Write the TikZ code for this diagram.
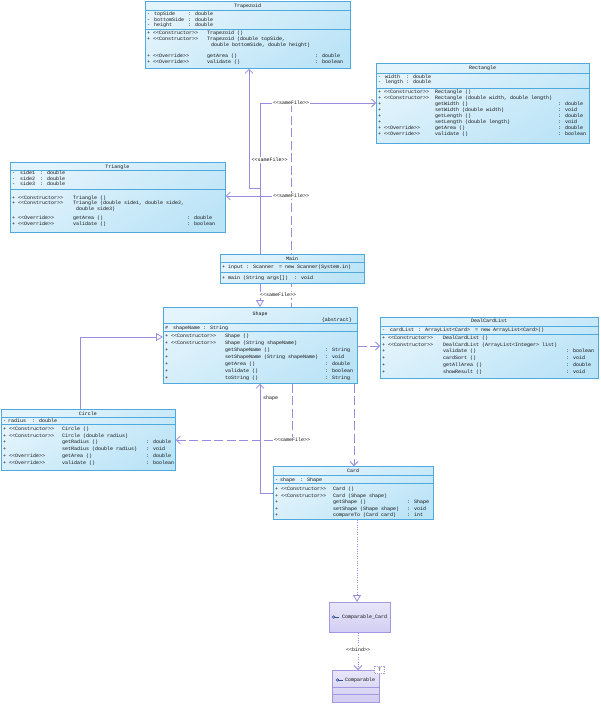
\documentclass[tikz,border=0pt]{standalone}
\usepackage{fontspec}
\newfontfamily\umf{Liberation Mono}
\usetikzlibrary{arrows.meta}
\definecolor{cbord}{HTML}{4FA9DD}
\definecolor{cfa}{HTML}{E4F4FC}
\definecolor{cfb}{HTML}{BCE4F7}
\definecolor{conn}{HTML}{9A8BE0}
\definecolor{ifa}{HTML}{E8E6F9}
\definecolor{ifb}{HTML}{D2CDF2}
\definecolor{ibord}{HTML}{A397E2}
\definecolor{tcol}{HTML}{101010}
\definecolor{icon}{HTML}{34509A}
\newcommand\cc[2]{\makebox[#1pt][l]{#2}}
\newcommand\rws[2]{\parbox[t]{260pt}{\umf\fontsize{5}{#1}\selectfont\lineskiplimit=-20pt\lineskip=0pt\relax #2}}
\pgfdeclarelayer{bgl}
\pgfdeclarelayer{cnl}
\pgfsetlayers{bgl,cnl,main}
\tikzset{
  classbox/.style={rectangle, draw=cbord, line width=0.8pt, top color=cfa, bottom color=cfb, shading angle=30, inner sep=0pt, anchor=north west},
  ifbox/.style={rectangle, draw=ibord, line width=0.8pt, top color=ifa, bottom color=ifb, inner sep=0pt, anchor=north west},
  sepline/.style={draw=cbord, line width=0.8pt},
  isep/.style={draw=ibord, line width=0.7pt},
  txt/.style={inner sep=0pt, anchor=base west, text=tcol, font=\umf\fontsize{5}{6}\selectfont},
  ttl/.style={inner sep=0pt, anchor=base, text=tcol, font=\umf\fontsize{5}{6}\selectfont},
  lbl/.style={fill=white, inner sep=0.7pt, text=tcol, font=\umf\fontsize{5}{6}\selectfont},
  conline/.style={draw=conn, line width=0.8pt},
  dashline/.style={conline, dash pattern=on 9pt off 3.5pt},
  dotline/.style={conline, dash pattern=on 1pt off 1.4pt},
  openv/.style={-{Straight Barb[length=4pt,width=8pt]}},
  gentri/.style={-{Triangle[open,length=7pt,width=8pt,fill=white]}}
}
\begin{document}
\begin{tikzpicture}[x=1pt,y=-1pt]
\useasboundingbox (0,0) rectangle (600,704);
\begin{pgfonlayer}{bgl}
\fill[white] (0,0) rectangle (600,704);
\end{pgfonlayer}

% ---------- Trapezoid
\node[classbox, minimum width=205pt, minimum height=67pt] (trap) at (145,1) {};
\draw[sepline] (trap.west |- 0,10) -- (trap.east |- 0,10);
\draw[sepline] (trap.west |- 0,29) -- (trap.east |- 0,29);
\node[ttl] (trapT) at (247.5,7.2) {Trapezoid};
\node[txt] (trapA) at (147,15.5) {\rws{5.6}{\cc{7}{-}\cc{34}{topSide}: double\\
\cc{7}{-}\cc{34}{bottomSide}: double\\
\cc{7}{-}\cc{34}{height}: double}};
\node[txt] (trapM) at (147,34) {\rws{6.3}{\cc{60}{+ <<Constructor>>}Trapezoid ()\\
\cc{60}{+ <<Constructor>>}Trapezoid (double topSide,\\
\hspace*{64pt}double bottomSide, double height)\\[4.6pt]
\cc{60}{+ <<Override>>}\cc{108}{getArea ()}: double\\
\cc{60}{+ <<Override>>}\cc{108}{validate ()}: boolean}};

% ---------- Rectangle
\node[classbox, minimum width=213pt, minimum height=80pt] (rect) at (376,63) {};
\draw[sepline] (rect.west |- 0,73) -- (rect.east |- 0,73);
\draw[sepline] (rect.west |- 0,88) -- (rect.east |- 0,88);
\node[ttl] (rectT) at (482.5,69.8) {Rectangle};
\node[txt] (rectA) at (378,78.3) {\rws{5.6}{\cc{7}{-}\cc{21}{width}: double\\
\cc{7}{-}\cc{21}{length}: double}};
\node[txt] (rectM) at (378,93.8) {\rws{5.95}{\cc{57}{+ <<Constructor>>}Rectangle ()\\
\cc{57}{+ <<Constructor>>}Rectangle (double width, double length)\\
\cc{57}{+}\cc{123}{getWidth ()}: double\\
\cc{57}{+}\cc{123}{setWidth (double width)}: void\\
\cc{57}{+}\cc{123}{getLength ()}: double\\
\cc{57}{+}\cc{123}{setLength (double length)}: void\\
\cc{57}{+ <<Override>>}\cc{123}{getArea ()}: double\\
\cc{57}{+ <<Override>>}\cc{123}{validate ()}: boolean}};

% ---------- Triangle
\node[classbox, minimum width=215pt, minimum height=70pt] (tri) at (10,162) {};
\draw[sepline] (tri.west |- 0,170.5) -- (tri.east |- 0,170.5);
\draw[sepline] (tri.west |- 0,189) -- (tri.east |- 0,189);
\node[ttl] (triT) at (117.5,168.3) {Triangle};
\node[txt] (triA) at (12,174.8) {\rws{5.5}{\cc{8}{-}\cc{20}{side1}: double\\
\cc{8}{-}\cc{20}{side2}: double\\
\cc{8}{-}\cc{20}{side3}: double}};
\node[txt] (triM) at (12,199) {\rws{5.7}{\cc{61}{+ <<Constructor>>}Triangle ()\\
\cc{61}{+ <<Constructor>>}Triangle (double side1, double side2,\\
\hspace*{64pt}double side3)\\[3.6pt]
\cc{61}{+ <<Override>>}\cc{114}{getArea ()}: double\\
\cc{61}{+ <<Override>>}\cc{114}{validate ()}: boolean}};

% ---------- Main
\node[classbox, minimum width=144pt, minimum height=29pt] (main) at (220,254) {};
\draw[sepline] (main.west |- 0,262) -- (main.east |- 0,262);
\draw[sepline] (main.west |- 0,272) -- (main.east |- 0,272);
\node[ttl] (mainT) at (292,260) {Main};
\node[txt] (mainA) at (222,268.8) {\rws{6}{\cc{6}{+}\cc{18}{input}\cc{33}{: Scanner}= new Scanner(System.in)}};
\node[txt] (mainM) at (222,279) {\rws{6}{\cc{6}{+}\cc{66}{main (String args[])}: void}};

% ---------- Shape
\node[classbox, minimum width=194pt, minimum height=76pt] (shape) at (163,307) {};
\draw[sepline] (shape.west |- 0,323.5) -- (shape.east |- 0,323.5);
\draw[sepline] (shape.west |- 0,331) -- (shape.east |- 0,331);
\node[ttl] (shapeT) at (260,315) {Shape};
\node[txt, anchor=base east] (shapeS) at (352,321.3) {\{abstract\}};
\node[txt] (shapeA) at (165,329.5) {\rws{6}{\cc{8}{\#}\cc{30}{shapeName}: String}};
\node[txt] (shapeM) at (165,337.8) {\rws{6.9}{\cc{60}{+ <<Constructor>>}Shape ()\\
\cc{60}{+ <<Constructor>>}Shape (String shapeName)\\
\cc{60}{+}\cc{100}{getShapeName ()}: String\\
\cc{60}{+}\cc{100}{setShapeName (String shapeName)}: void\\
\cc{60}{+}\cc{100}{getArea ()}: double\\
\cc{60}{+}\cc{100}{validate ()}: boolean\\
\cc{60}{+}\cc{100}{toString ()}: String}};

% ---------- DealCardList
\node[classbox, minimum width=218pt, minimum height=61pt] (dcl) at (380,317) {};
\draw[sepline] (dcl.west |- 0,326) -- (dcl.east |- 0,326);
\draw[sepline] (dcl.west |- 0,334) -- (dcl.east |- 0,334);
\node[ttl] (dclT) at (489,322.8) {DealCardList};
\node[txt] (dclA) at (382,331.5) {\rws{6}{\cc{8}{-}\cc{28}{cardList}\cc{57}{: ArrayList<Card>}= new ArrayList<Card>()}};
\node[txt] (dclM) at (382,339.5) {\rws{6.7}{\cc{61}{+ <<Constructor>>}DealCardList ()\\
\cc{61}{+ <<Constructor>>}DealCardList (ArrayList<Integer> list)\\
\cc{61}{+}\cc{123}{validate ()}: boolean\\
\cc{61}{+}\cc{123}{cardSort ()}: void\\
\cc{61}{+}\cc{123}{getAllArea ()}: double\\
\cc{61}{+}\cc{123}{showResult ()}: void}};

% ---------- Circle
\node[classbox, minimum width=174pt, minimum height=61pt] (circ) at (1,409) {};
\draw[sepline] (circ.west |- 0,417) -- (circ.east |- 0,417);
\draw[sepline] (circ.west |- 0,424.5) -- (circ.east |- 0,424.5);
\node[ttl] (circT) at (88,415) {Circle};
\node[txt] (circA) at (3,422.2) {\rws{6}{\cc{5}{-}\cc{24}{radius}: double}};
\node[txt] (circM) at (3,430.5) {\rws{6.7}{\cc{59}{+ <<Constructor>>}Circle ()\\
\cc{59}{+ <<Constructor>>}Circle (double radius)\\
\cc{59}{+}\cc{84}{getRadius ()}: double\\
\cc{59}{+}\cc{84}{setRadius (double radius)}: void\\
\cc{59}{+ <<Override>>}\cc{84}{getArea ()}: double\\
\cc{59}{+ <<Override>>}\cc{84}{validate ()}: boolean}};

% ---------- Card
\node[classbox, minimum width=160pt, minimum height=53pt] (card) at (273,466) {};
\draw[sepline] (card.west |- 0,475) -- (card.east |- 0,475);
\draw[sepline] (card.west |- 0,483) -- (card.east |- 0,483);
\node[ttl] (cardT) at (353,472.3) {Card};
\node[txt] (cardA) at (275,481) {\rws{6}{\cc{5}{-}\cc{20}{shape}: Shape}};
\node[txt] (cardM) at (275,490.8) {\rws{6.4}{\cc{58}{+ <<Constructor>>}Card ()\\
\cc{58}{+ <<Constructor>>}Card (Shape shape)\\
\cc{58}{+}\cc{74}{getShape ()}: Shape\\
\cc{58}{+}\cc{74}{setShape (Shape shape)}: void\\
\cc{58}{+}\cc{74}{compareTo (Card card)}: int}};

% ---------- Comparable_Card
\node[ifbox, minimum width=61pt, minimum height=30pt] (ccard) at (329,602) {};
\draw[icon, line width=0.6pt] (333.6,617) circle (1.3pt);
\draw[icon, line width=0.6pt] (334.9,617) -- (338.5,617);
\node[txt] (ccardT) at (342,618.6) {Comparable\_Card};

% ---------- Comparable
\node[ifbox, minimum width=47pt, minimum height=32pt] (comp) at (332,670) {};
\draw[isep] (comp.west |- 0,687.5) -- (comp.east |- 0,687.5);
\draw[isep] (comp.west |- 0,694.5) -- (comp.east |- 0,694.5);
\draw[icon, line width=0.6pt] (337.6,680) circle (1.3pt);
\draw[icon, line width=0.6pt] (338.9,680) -- (342.5,680);
\node[txt] (compT) at (345,681.6) {Comparable};
\node[draw=ibord, dash pattern=on 1pt off 1pt, fill=white, line width=0.5pt, inner sep=0.5pt, minimum width=10pt, minimum height=7pt, text=tcol, font=\umf\fontsize{5}{5}\selectfont] (tpar) at (379.5,670) {T};

% ---------- connectors
\coordinate (jR) at (260,103);
\coordinate (jT) at (260,188);
\coordinate (bT) at (249,188);
\coordinate (jD) at (291,103);
\coordinate (jTri) at (291,196);
\coordinate (cS) at (260,493);
\coordinate (cC) at (292,440);
\coordinate (gC) at (80,337);
\begin{pgfonlayer}{cnl}
\draw[conline, gentri] (jR) -- (jR |- shape.north);
\draw[conline, openv] (jR) -- (jR -| rect.west);
\draw[conline, openv] (jT) -- (bT) -- (bT |- trap.south);
\draw[conline, openv] (jTri) -- (jTri -| tri.east);
\draw[dashline] (jD) -- (jD |- shape.north);
\draw[conline, openv] (cS -| card.west) -- (cS) -- (cS |- shape.south);
\draw[dashline, openv] (cC |- shape.south) -- (cC) -- (cC -| circ.east);
\draw[dashline, openv] (354,0 |- shape.south) -- (354,0 |- card.north);
\draw[dashline, openv] (shape.east |- 0,346) -- (dcl.west |- 0,346);
\draw[conline, gentri] (gC |- circ.north) -- (gC) -- (gC -| shape.west);
\draw[dotline, gentri] (357,0 |- card.south) -- (357,0 |- ccard.north);
\draw[dotline, openv] (358,0 |- ccard.south) -- (358,0 |- comp.north);
\end{pgfonlayer}
\node[lbl] (l1) at (269.5,160) {<<sameFile>>};
\node[lbl] (l2) at (291,103) {<<sameFile>>};
\node[lbl] (l3) at (291,196) {<<sameFile>>};
\node[lbl] (l4) at (278,295) {<<sameFile>>};
\node[lbl] (l5) at (292,440) {<<sameFile>>};
\node[txt] (l6) at (263,399) {shape};
\node[lbl] (l7) at (358,650) {<<bind>>};
\end{tikzpicture}
\end{document}
